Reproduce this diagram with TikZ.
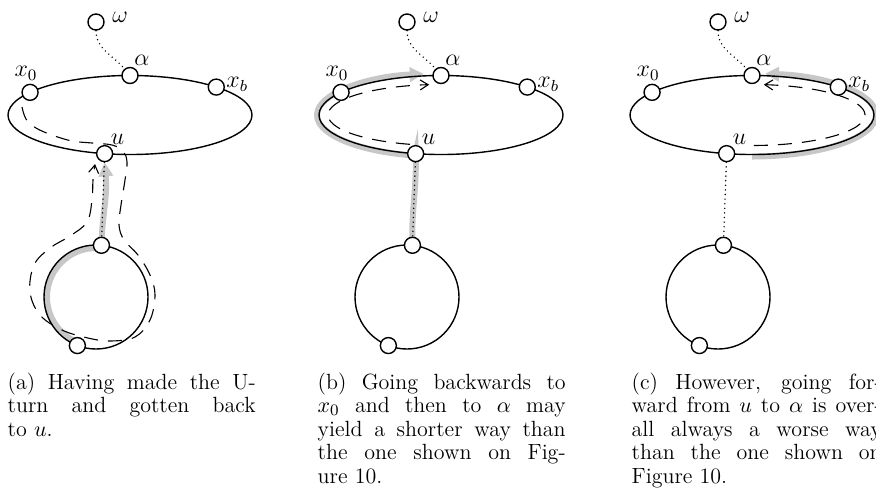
\documentclass[tikz,border=0pt]{standalone}
\usepackage{tikz}
\usetikzlibrary{arrows.meta, calc, backgrounds}
\pgfdeclarelayer{bottom}
\pgfsetlayers{bottom,background,main}
\colorlet{walkgray}{black!22}
\tikzset{
  vtx/.style={circle, draw=black, fill=white, inner sep=0pt, minimum size=8pt},
  lbl/.style={inner sep=0pt, font=\fontsize{12}{14}\selectfont},
  leaf/.style={line width=0.8pt, line cap=round, dash pattern=on 0pt off 2.3pt},
  walk/.style={line width=0.55pt, dash pattern=on 7pt off 5pt, -{Straight Barb[length=4pt,width=5pt]}},
  seen/.style={line width=3pt, walkgray, -{Triangle[length=7pt,width=7pt]}},
  capbox/.style={anchor=north west, inner sep=0pt, text width=124pt, align=justify, font=\fontsize{11}{11.75}\selectfont},
}
% ellipse with x0, alpha, xb, u, the loop below and the omega leaf
\newcommand{\basegraph}[1]{%
  \draw (0,0) ellipse[x radius=122, y radius=39.5];
  \coordinate (#1lc) at (-34,-182);
  \draw (#1lc) circle[radius=52];
  \node[vtx] (#1om) at (-34,93) {};
  \node[vtx] (#1al) at (90:122 and 39.5) {};
  \node[vtx] (#1x0) at (145:122 and 39.5) {};
  \node[vtx] (#1xb) at (45:122 and 39.5) {};
  \node[vtx] (#1u) at (258:122 and 39.5) {};
  \node[vtx] (#1lt) at ($(#1lc)+(84:52)$) {};
  \node[vtx] (#1lb) at ($(#1lc)+(249:52)$) {};
  \begin{pgfonlayer}{background}
    \draw[leaf] (#1om) to[out=-90, in=130] (#1al);
    \draw[leaf] (#1u) to[out=-92, in=88] (#1lt);
  \end{pgfonlayer}
  \node[lbl] (#1omL) at ($(#1om)+(24,5)$) {$\omega$};
  \node[lbl] (#1alL) at ($(#1al)+(12,15)$) {$\alpha$};
  \node[lbl] (#1x0L) at ($(#1x0)+(-4,19)$) {$x_0$};
  \node[lbl] (#1xbL) at ($(#1xb)+(21,3)$) {$x_b$};
  \node[lbl] (#1uL) at ($(#1u)+(13,14)$) {$u$};
}

\begin{document}
\begin{tikzpicture}[x=0.5pt, y=0.5pt, line width=0.7pt]
  \useasboundingbox (0,0) rectangle (876,-494);

  % (a) the U-turn in the loop
  \begin{scope}[shift={(130,-115)}]
    \basegraph{a}
    \begin{pgfonlayer}{bottom}
      \draw[seen] ($(alc)+(249:49)$) arc[start angle=249, end angle=84, radius=49]
        to[out=88, in=-85] (au.south);
    \end{pgfonlayer}
    \begin{pgfonlayer}{background}
      \draw[walk] plot[smooth, tension=0.6] coordinates {(-108,8) (-104,-4) (-94,-13) (-78,-20)
        (-58,-26) (-38,-28) (-18,-30) (-7,-36) (-3,-47) (-5,-65) (-9,-90) (-11,-110) (-6,-125)
        (8,-140) (20,-160) (25,-180) (20,-205) (5,-222) (-20,-226) (-42,-223) (-68,-215)
        (-90,-200) (-100,-177) (-96,-150) (-80,-133) (-60,-121) (-43,-107) (-38,-85) (-37,-65)
        (-35,-49)};
    \end{pgfonlayer}
  \end{scope}

  % (b) backwards through x0
  \begin{scope}[shift={(441,-115)}]
    \basegraph{b}
    \begin{pgfonlayer}{bottom}
      \draw[seen] (blt.center) to[out=92, in=-88] (bu.center) -- (258:124 and 41.5)
        arc[start angle=258, end angle=98, x radius=124, y radius=41.5];
    \end{pgfonlayer}
    \begin{pgfonlayer}{background}
      \draw[walk] (254:113 and 30.5) arc[start angle=254, end angle=96, x radius=113, y radius=30.5];
    \end{pgfonlayer}
  \end{scope}

  % (c) forward through xb
  \begin{scope}[shift={(752,-115)}]
    \basegraph{c}
    \begin{pgfonlayer}{bottom}
      \draw[seen] (270:124 and 41.5) arc[start angle=270, end angle=444, x radius=124, y radius=41.5];
    \end{pgfonlayer}
    \begin{pgfonlayer}{background}
      \draw[walk] (271:113 and 30.5) arc[start angle=271, end angle=444, x radius=113, y radius=30.5];
    \end{pgfonlayer}
  \end{scope}

  \node[capbox] (capa) at (7,-372) {(a) Having made the U-\linebreak turn and gotten back\linebreak to $u$.};
  \node[capbox] (capb) at (317,-372) {(b) Going backwards to\linebreak $x_0$ and then to $\alpha$ may\linebreak yield a shorter way than\linebreak the one shown on Fig-\linebreak ure 10.};
  \node[capbox, text width=125pt] (capc) at (631,-372) {(c) However, going for-\linebreak ward from $u$ to $\alpha$ is over-\linebreak all always a worse way\linebreak than the one shown on\linebreak Figure 10.};
\end{tikzpicture}
\end{document}
